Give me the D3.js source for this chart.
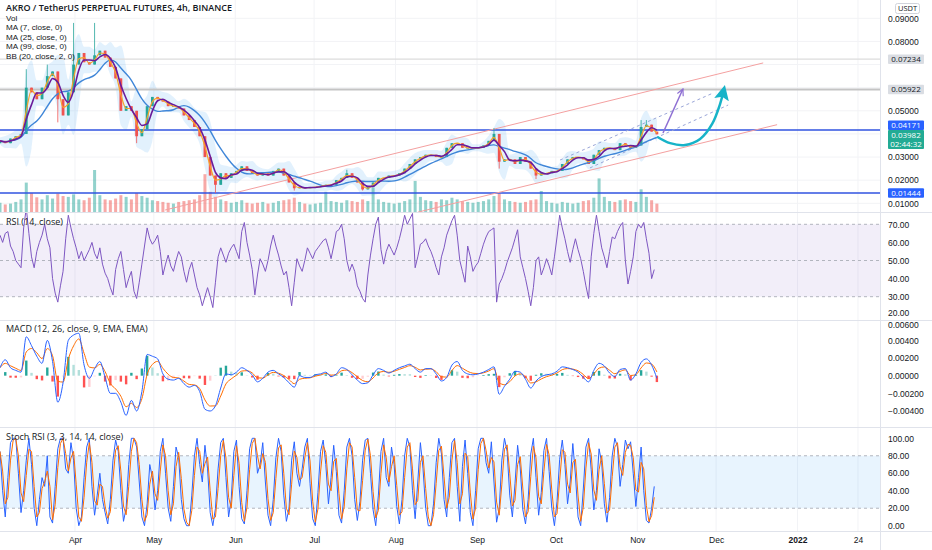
<!DOCTYPE html>
<html>
<head>
<meta charset="utf-8">
<script src="https://cdn.jsdelivr.net/npm/d3@7"></script>
<style>
  body { margin: 0; background: #fff; overflow: hidden; }
  svg { display: block; font-family: "Open Sans", "DejaVu Sans", sans-serif; }
</style>
</head>
<body>
<svg id="chart" width="932" height="550"></svg>
<script>
// ---- data ----
const startDate = new Date(2021, 2, 3, 11);
const priceStepDays = 2;
const firstOpen = 0.036;
const closes = [
  0.037, 0.036, 0.038, 0.039, 0.040, 0.060, 0.058, 0.055, 0.060, 0.065,
  0.067, 0.055, 0.048, 0.058, 0.070, 0.075, 0.071, 0.070, 0.074, 0.076,
  0.073, 0.069, 0.064, 0.050, 0.052, 0.050, 0.039, 0.042, 0.052, 0.056,
  0.055, 0.054, 0.052, 0.052, 0.051, 0.048, 0.046, 0.043, 0.039, 0.030,
  0.022, 0.018, 0.023, 0.021, 0.023, 0.024, 0.026, 0.024, 0.023, 0.022,
  0.023, 0.022, 0.024, 0.025, 0.022, 0.019, 0.0165, 0.017, 0.0165, 0.017,
  0.017, 0.0175, 0.018, 0.018, 0.020, 0.021, 0.023, 0.021, 0.019, 0.016,
  0.017, 0.019, 0.021, 0.021, 0.022, 0.022, 0.023, 0.025, 0.027, 0.029,
  0.030, 0.031, 0.031, 0.030, 0.030, 0.034, 0.036, 0.036, 0.034, 0.034,
  0.034, 0.034, 0.035, 0.037, 0.040, 0.028, 0.029, 0.029, 0.027, 0.030,
  0.028, 0.025, 0.022, 0.023, 0.023, 0.024, 0.024, 0.027, 0.029, 0.030,
  0.030, 0.029, 0.027, 0.031, 0.033, 0.034, 0.034, 0.033, 0.036, 0.035,
  0.034, 0.035, 0.043, 0.044, 0.041, 0.03982
];
const wickHighs = [[5, 0.068], [9, 0.070], [14, 0.088], [18, 0.088], [66, 0.0245], [94, 0.0425], [122, 0.046], [123, 0.046]];
const wickLows = [[11, 0.045], [26, 0.036], [41, 0.0145], [56, 0.0155], [69, 0.0155], [95, 0.025], [102, 0.0205]];
const volumes = [
  22, 18, 20, 24, 30, 70, 45, 35, 30, 40,
  32, 44, 38, 36, 42, 30, 28, 34, 100, 40,
  30, 28, 32, 40, 36, 30, 45, 38, 34, 28,
  26, 24, 22, 20, 24, 26, 28, 30, 40, 90,
  48, 36, 30, 26, 22, 24, 28, 22, 20, 22,
  24, 20, 22, 26, 28, 30, 34, 24, 20, 18,
  20, 22, 48, 26, 24, 22, 28, 26, 24, 30,
  26, 58, 30, 24, 22, 20, 22, 26, 30, 74,
  36, 28, 26, 24, 30, 28, 34, 30, 26, 24,
  22, 24, 26, 30, 38, 44, 30, 26, 24, 22,
  24, 28, 30, 50, 26, 22, 20, 24, 22, 20,
  22, 26, 28, 34, 80, 36, 26, 24, 28, 30,
  26, 24, 54, 36, 28, 20
];

const indStepDays = 1;
const rsiValues = [
  64, 60, 65, 66, 58, 55, 50, 48, 46, 68,
  79, 65, 52, 46, 55, 60, 64, 70, 62, 57,
  40, 32, 27, 36, 44, 62, 75, 68, 62, 57,
  51, 55, 50, 53, 56, 60, 54, 51, 57, 48,
  43, 40, 35, 31, 45, 51, 55, 45, 35, 40,
  44, 33, 29, 38, 48, 58, 68, 62, 59, 61,
  64, 55, 42, 48, 53, 47, 44, 50, 55, 52,
  44, 38, 45, 49, 42, 35, 31, 25, 30, 35,
  30, 24, 38, 52, 57, 53, 49, 54, 57, 59,
  55, 51, 66, 71, 60, 53, 45, 31, 42, 51,
  48, 44, 50, 58, 64, 58, 53, 47, 42, 44,
  35, 25, 38, 51, 47, 44, 50, 57, 54, 51,
  55, 57, 59, 61, 62, 57, 51, 58, 66, 67,
  70, 62, 50, 44, 48, 44, 36, 33, 29, 27,
  42, 53, 62, 70, 74, 56, 48, 55, 59, 56,
  53, 57, 62, 68, 75, 70, 73, 76, 46, 52,
  59, 60, 62, 58, 55, 51, 46, 42, 52, 57,
  64, 68, 72, 75, 64, 50, 44, 38, 58, 52,
  44, 47, 49, 54, 59, 63, 66, 67, 68, 27,
  37, 40, 44, 49, 53, 57, 62, 67, 52, 46,
  40, 33, 25, 35, 50, 52, 42, 46, 51, 47,
  42, 52, 63, 75, 68, 62, 55, 49, 56, 62,
  56, 51, 44, 36, 29, 52, 65, 75, 66, 57,
  52, 46, 55, 63, 62, 66, 69, 71, 50, 37,
  44, 52, 66, 70, 68, 71, 62, 54, 40, 45
];
const macdValues = [
  0.0009, 0.0018, 0.0009, 0.0006, 0.0004, 0.0044, 0.0034, 0.0022, 0.0014, 0.0040,
  0.0016, -0.0030, -0.0008, 0.0040, 0.0046, 0.0048, 0.0012, -0.0003, 0.0008, 0.0016,
  -0.0002, -0.0020, -0.0020, -0.0030, -0.0045, -0.0028, -0.0040, -0.0018, 0.0024, 0.0022,
  0.0019, 0.0002, -0.0004, -0.0005, -0.0003, -0.0009, -0.0013, -0.0011, -0.0018, -0.0038,
  -0.0040, -0.0034, -0.0014, 0.0002, 0.0001, 0.0004, 0.0009, 0.0006, 0.0001, -0.0007,
  -0.0003, 0.0004, 0.0006, 0.0002, -0.0002, -0.0008, -0.0013, 0.0000, -0.0002, -0.0002,
  0.0001, 0.0002, 0.0004, -0.0001, 0.0002, 0.0009, 0.0007, 0.0001, -0.0005, -0.0009,
  -0.0008, 0.0001, 0.0008, 0.0006, 0.0003, 0.0006, 0.0009, 0.0011, 0.0013, 0.0008,
  0.0004, 0.0008, 0.0008, 0.0002, -0.0006, -0.0002, 0.0012, 0.0016, 0.0006, 0.0002,
  0.0001, 0.0002, 0.0004, 0.0007, 0.0010, -0.0021, -0.0012, -0.0004, 0.0005, 0.0004,
  -0.0004, -0.0014, -0.0006, -0.0001, 0.0001, 0.0002, 0.0005, 0.0010, 0.0009, 0.0007,
  0.0004, -0.0002, -0.0007, 0.0006, 0.0014, 0.0011, 0.0003, -0.0001, 0.0007, 0.0008,
  -0.0005, 0.0002, 0.0015, 0.0019, 0.0012, -0.0003
];
const stochK = [
  85, 40, 10, 55, 95, 100, 100, 60, 15, 40,
  75, 100, 70, 20, 0, 30, 55, 45, 80, 10,
  3, 45, 88, 100, 100, 65, 60, 95, 75, 20,
  0, 10, 55, 90, 100, 45, 12, 35, 60, 30,
  15, 2, 30, 75, 98, 85, 40, 5, 20, 70,
  100, 100, 90, 50, 10, 0, 25, 70, 55, 18,
  40, 85, 100, 60, 20, 5, 45, 90, 78, 30,
  8, 0, 0, 35, 80, 100, 70, 50, 92, 65,
  15, 0, 20, 65, 95, 100, 55, 10, 30, 85,
  98, 45, 8, 2, 40, 88, 100, 100, 60, 70,
  95, 50, 12, 0, 30, 78, 100, 85, 35, 5,
  20, 75, 96, 60, 45, 65, 90, 100, 48, 8,
  0, 38, 85, 98, 70, 25, 55, 92, 62, 12,
  3, 40, 90, 100, 80, 30, 6, 28, 75, 98,
  100, 60, 18, 0, 35, 85, 100, 55, 45, 90,
  70, 22, 2, 30, 80, 100, 90, 40, 8, 50,
  95, 65, 20, 0, 0, 25, 72, 100, 82, 30,
  10, 55, 95, 100, 45, 5, 68, 98, 60, 15,
  0, 40, 88, 100, 100, 72, 60, 96, 50, 4,
  20, 75, 100, 85, 35, 10, 48, 92, 66, 18,
  2, 30, 82, 100, 55, 12, 38, 86, 100, 62,
  20, 0, 28, 76, 98, 70, 25, 50, 94, 58,
  10, 0, 42, 90, 100, 64, 18, 40, 88, 72,
  25, 4, 32, 80, 100, 90, 45, 70, 98, 88,
  96, 60, 22, 55, 90, 40, 6, 3, 20, 45
];

const levelPrices = [0.07234, 0.05922, 0.04171, 0.01444];
const levelKinds = ["grey", "grey", "blue", "blue"];
const lastPrice = 0.03982;
const countdown = "02:44:32";

const channelLines = [
  [["2021-05-05T07:00", 0.0071], ["2021-12-18T22:00", 0.0707]],
  [["2021-08-09T14:00", 0.0062], ["2021-12-24T05:00", 0.0440]]
];
const dashedLines = [
  [["2021-10-02T14:00", 0.0287], ["2021-11-29T22:00", 0.0577]],
  [["2021-10-14T00:00", 0.0253], ["2021-12-05T14:00", 0.0525]]
];
const purpleArrow = [["2021-11-10T19:00", 0.0404], ["2021-11-18T09:00", 0.0594]];
const tealCurve = [
  ["2021-11-08T13:00", 0.0388], ["2021-11-13T12:00", 0.0360], ["2021-11-19T05:00", 0.0352],
  ["2021-11-24T22:00", 0.0378], ["2021-11-29T12:00", 0.0443], ["2021-12-02T12:00", 0.0529],
  ["2021-12-03T17:00", 0.0580]
];

const monthTicks = ["2021-04-01", "2021-05-01", "2021-06-01", "2021-07-01", "2021-08-01", "2021-09-01",
  "2021-10-01", "2021-11-01", "2021-12-01", "2022-01-01", "2022-01-24"];
const monthLabels = ["Apr", "May", "Jun", "Jul", "Aug", "Sep", "Oct", "Nov", "Dec", "2022", "24"];

const legendLines = ["Vol", "MA (7, close, 0)", "MA (25, close, 0)", "MA (99, close, 0)", "BB (20, close, 2, 0)"];

// ---- layout ----
const plotW = 880;
const panels = {
  main: [0, 212], rsi: [213, 320], macd: [321, 427], stoch: [428, 531]
};
const textColor = "#131722";
const gridColor = "#f2f3f6";
const dayMs = 864e5;
const parse = s => new Date(s);

const svg = d3.select("#chart");
const defs = svg.append("defs");
Object.entries(panels).forEach(([k, [t, b]]) => {
  defs.append("clipPath").attr("id", "clip-" + k)
    .append("rect").attr("x", 0).attr("y", t).attr("width", plotW).attr("height", b - t);
});
defs.append("marker").attr("id", "openHead").attr("viewBox", "0 0 10 10")
  .attr("refX", 9).attr("refY", 5).attr("markerWidth", 8).attr("markerHeight", 8)
  .attr("orient", "auto").attr("markerUnits", "userSpaceOnUse")
  .append("path").attr("d", "M1,1 L9,5 L1,9").attr("fill", "none")
  .attr("stroke", "#8e6fd3").attr("stroke-width", 1.5);
defs.append("marker").attr("id", "fillHead").attr("viewBox", "0 0 10 10")
  .attr("refX", 5).attr("refY", 5).attr("markerWidth", 15).attr("markerHeight", 15)
  .attr("orient", "auto").attr("markerUnits", "userSpaceOnUse")
  .append("path").attr("d", "M0,0 L10,5 L0,10 L2,5 Z").attr("fill", "#17b3c8");

const x = d3.scaleTime()
  .domain([new Date(2021, 2, 3, 11), new Date(2022, 1, 1, 9)])
  .range([0, plotW]);
const yPrice = d3.scaleLinear().domain([0.01, 0.09]).range([203.3, 18.3]);
const yVol = d3.scaleLinear().domain([0, 100]).range([212, 170]);
const yRsi = d3.scaleLinear().domain([30, 70]).range([296.7, 224.3]);
const yMacd = d3.scaleLinear().domain([-0.004, 0.006]).range([411, 322.7]);
const yStoch = d3.scaleLinear().domain([0, 100]).range([525.7, 438.3]);

const priceDates = closes.map((_, i) => new Date(startDate.getTime() + i * priceStepDays * dayMs));
const indDates = rsiValues.map((_, i) => new Date(startDate.getTime() + i * indStepDays * dayMs));

// ---- derived series ----
function sma(arr, n) {
  return arr.map((_, i) => d3.mean(arr.slice(Math.max(0, i - n + 1), i + 1)));
}
const ma7 = sma(closes, 2), ma25 = sma(closes, 3), ma99 = sma(closes, 8);
const bb = closes.map((_, i) => {
  const w = closes.slice(Math.max(0, i - 2), i + 1);
  const m = d3.mean(w), s = w.length > 1 ? d3.deviation(w) : 0;
  return { m, up: m + 1.6 * s + 0.0015, lo: m - 1.6 * s - 0.0015 };
});
const hiMap = new Map(wickHighs), loMap = new Map(wickLows);
const candles = closes.map((c, i) => {
  const o = i === 0 ? firstOpen : closes[i - 1];
  return {
    d: priceDates[i], o, c,
    h: Math.max(o, c, hiMap.get(i) || 0),
    l: Math.min(o, c, loMap.get(i) || 1),
    v: volumes[i]
  };
});
let sig = macdValues[0];
const macdRows = macdValues.map((m, i) => {
  sig = i === 0 ? m : sig + 0.55 * (m - sig);
  return { d: priceDates[i], m, s: sig, h: m - sig };
});
const stochD = sma(stochK, 2);

// ---- grid ----
const grid = svg.append("g");
monthTicks.forEach(t => {
  grid.append("line").attr("x1", x(parse(t))).attr("x2", x(parse(t)))
    .attr("y1", 0).attr("y2", 531).attr("stroke", gridColor);
});
d3.range(0.01, 0.0901, 0.01).forEach(v => {
  grid.append("line").attr("x1", 0).attr("x2", plotW)
    .attr("y1", yPrice(v)).attr("y2", yPrice(v)).attr("stroke", gridColor);
});

// ---- main panel ----
const main = svg.append("g").attr("clip-path", "url(#clip-main)");
main.append("path").datum(bb)
  .attr("fill", "rgba(33,150,243,0.13)")
  .attr("d", d3.area().curve(d3.curveMonotoneX)
    .x((d, i) => x(priceDates[i])).y0(d => yPrice(d.lo)).y1(d => yPrice(d.up)));

main.selectAll(".vol").data(candles).join("rect")
  .attr("x", d => x(d.d) - 1.5).attr("width", 3)
  .attr("y", d => yVol(d.v)).attr("height", d => yVol(0) - yVol(d.v))
  .attr("fill", d => d.c >= d.o ? "rgba(38,166,154,0.5)" : "rgba(239,83,80,0.5)");

levelPrices.forEach((p, i) => {
  const blue = levelKinds[i] === "blue";
  main.append("line").attr("x1", 0).attr("x2", plotW)
    .attr("y1", yPrice(p)).attr("y2", yPrice(p))
    .attr("stroke", blue ? "#3153e0" : (p > 0.07 ? "#dcdcdc" : "#c4c4c4"))
    .attr("stroke-width", blue ? 1.5 : (p > 0.07 ? 1.2 : 2));
});

const ptLine = d3.line().x(d => x(parse(d[0]))).y(d => yPrice(d[1]));
channelLines.forEach(l => {
  main.append("path").attr("d", ptLine(l)).attr("fill", "none")
    .attr("stroke", "#f4a0a0").attr("stroke-width", 1);
});
dashedLines.forEach(l => {
  main.append("path").attr("d", ptLine(l)).attr("fill", "none")
    .attr("stroke", "#9aa6d8").attr("stroke-width", 1).attr("stroke-dasharray", "3,3");
});

const cg = main.selectAll(".candle").data(candles).join("g");
cg.append("line")
  .attr("x1", d => x(d.d)).attr("x2", d => x(d.d))
  .attr("y1", d => yPrice(d.h)).attr("y2", d => yPrice(d.l))
  .attr("stroke", d => d.c >= d.o ? "#26a69a" : "#ef5350").attr("stroke-width", 0.8);
cg.append("rect")
  .attr("x", d => x(d.d) - 1.4).attr("width", 2.8)
  .attr("y", d => yPrice(Math.max(d.o, d.c)))
  .attr("height", d => Math.max(0.8, Math.abs(yPrice(d.o) - yPrice(d.c))))
  .attr("fill", d => d.c >= d.o ? "#26a69a" : "#ef5350");

const maLine = d3.line().curve(d3.curveMonotoneX).x((d, i) => x(priceDates[i])).y(d => yPrice(d));
main.append("path").datum(ma99).attr("d", d3.line().curve(d3.curveBasis)
  .x((d, i) => x(priceDates[i])).y(d => yPrice(d)))
  .attr("fill", "none").attr("stroke", "#3f86d8").attr("stroke-width", 1.4);
main.append("path").datum(ma7).attr("d", maLine)
  .attr("fill", "none").attr("stroke", "#f7a32b").attr("stroke-width", 1.2);
main.append("path").datum(ma25).attr("d", maLine)
  .attr("fill", "none").attr("stroke", "#6a1b9a").attr("stroke-width", 1.6);

svg.append("path").attr("d", ptLine(purpleArrow)).attr("fill", "none")
  .attr("stroke", "#8e6fd3").attr("stroke-width", 1.5).attr("marker-end", "url(#openHead)");
svg.append("path").attr("d", d3.line().curve(d3.curveCatmullRom)
    .x(d => x(parse(d[0]))).y(d => yPrice(d[1]))(tealCurve))
  .attr("fill", "none").attr("stroke", "#17b3c8").attr("stroke-width", 2.5)
  .attr("marker-end", "url(#fillHead)");

// ---- RSI panel ----
const rsiG = svg.append("g").attr("clip-path", "url(#clip-rsi)");
rsiG.append("rect").attr("x", 0).attr("width", plotW)
  .attr("y", yRsi(70)).attr("height", yRsi(30) - yRsi(70)).attr("fill", "rgba(126,87,194,0.1)");
[70, 50, 30].forEach(v => rsiG.append("line").attr("x1", 0).attr("x2", plotW)
  .attr("y1", yRsi(v)).attr("y2", yRsi(v)).attr("stroke", "#b2b5be").attr("stroke-dasharray", "3,3"));
rsiG.append("path").datum(rsiValues)
  .attr("d", d3.line().x((d, i) => x(indDates[i])).y(d => yRsi(d)))
  .attr("fill", "none").attr("stroke", "#7e57c2").attr("stroke-width", 1);

// ---- MACD panel ----
const macdG = svg.append("g").attr("clip-path", "url(#clip-macd)");
macdG.selectAll("rect").data(macdRows).join("rect")
  .attr("x", d => x(d.d) - 1.2).attr("width", 2.4)
  .attr("y", d => Math.min(yMacd(0), yMacd(d.h)))
  .attr("height", d => Math.abs(yMacd(d.h) - yMacd(0)))
  .attr("fill", (d, i) => {
    const prev = i ? macdRows[i - 1].h : 0;
    if (d.h >= 0) return d.h >= prev ? "#26a69a" : "#b2dfdb";
    return d.h <= prev ? "#ff5252" : "#ffcdd2";
  });
const macdLine = key => d3.line().curve(d3.curveMonotoneX).x(d => x(d.d)).y(d => yMacd(d[key]));
macdG.append("path").datum(macdRows).attr("d", macdLine("s"))
  .attr("fill", "none").attr("stroke", "#ff6d00").attr("stroke-width", 1);
macdG.append("path").datum(macdRows).attr("d", macdLine("m"))
  .attr("fill", "none").attr("stroke", "#2962ff").attr("stroke-width", 1);

// ---- Stoch RSI panel ----
const stG = svg.append("g").attr("clip-path", "url(#clip-stoch)");
stG.append("rect").attr("x", 0).attr("width", plotW)
  .attr("y", yStoch(80)).attr("height", yStoch(20) - yStoch(80)).attr("fill", "rgba(33,150,243,0.1)");
[80, 20].forEach(v => stG.append("line").attr("x1", 0).attr("x2", plotW)
  .attr("y1", yStoch(v)).attr("y2", yStoch(v)).attr("stroke", "#b2b5be").attr("stroke-dasharray", "3,3"));
const stLine = d3.line().x((d, i) => x(indDates[i])).y(d => yStoch(d));
stG.append("path").datum(stochK).attr("d", stLine)
  .attr("fill", "none").attr("stroke", "#2962ff").attr("stroke-width", 1);
stG.append("path").datum(stochD).attr("d", stLine)
  .attr("fill", "none").attr("stroke", "#ff6d00").attr("stroke-width", 1);

// ---- separators ----
[212.5, 320.5, 427.5, 531.5].forEach(y => svg.append("line")
  .attr("x1", 0).attr("x2", 932).attr("y1", y).attr("y2", y).attr("stroke", "#e0e3eb"));
svg.append("line").attr("x1", plotW + 0.5).attr("x2", plotW + 0.5)
  .attr("y1", 0).attr("y2", 550).attr("stroke", "#e0e3eb");

// ---- right axes ----
function rightAxis(scale, ticks, fmt) {
  const g = svg.append("g").attr("transform", `translate(${plotW},0)`)
    .call(d3.axisRight(scale).tickValues(ticks).tickFormat(fmt).tickSize(0).tickPadding(8));
  g.select(".domain").remove();
  g.selectAll("text").attr("fill", textColor).attr("font-size", 8.5);
  return g;
}
const f5 = d3.format(".5f");
// price ticks that sit under a tag are hidden, as the terminal does
const lvlY = levelPrices.map(yPrice).concat([yPrice(lastPrice) + 5]);
const priceTicks = d3.range(0.01, 0.0901, 0.01).filter(v => lvlY.every(t => Math.abs(yPrice(v) - t) > 9));
rightAxis(yPrice, priceTicks, f5);
const rsiAxis = rightAxis(yRsi, [20, 30, 40, 50, 60, 70], d3.format(".2f"));
const macdAxis = rightAxis(yMacd, [-0.004, -0.002, 0, 0.002, 0.004, 0.006], f5);
rightAxis(yStoch, [0, 20, 40, 60, 80, 100], d3.format(".2f"));
// the two labels at the pane border are nudged apart
rsiAxis.selectAll("text").filter(d => d === 20).attr("dy", "0.1em");
macdAxis.selectAll("text").filter(d => d === 0.006).attr("dy", "0.6em");

function priceBox(yc, lines, bg, fg) {
  const lh = 9.5, h = lh * lines.length;
  svg.append("rect").attr("x", 888).attr("y", yc - lh / 2).attr("width", 36).attr("height", h)
    .attr("fill", bg).attr("rx", 1);
  lines.forEach((t, i) => svg.append("text").attr("x", 906).attr("y", yc + lh * i)
    .attr("dy", "0.35em").attr("text-anchor", "middle").attr("font-size", 8)
    .attr("fill", fg).text(t));
}
levelPrices.forEach((p, i) => {
  const blue = levelKinds[i] === "blue";
  // the 0.04171 tag is pushed up to make room for the live price tag
  const yc = p === 0.04171 ? yPrice(p) - 4.75 : yPrice(p);
  priceBox(yc, [f5(p)], blue ? "#2962ff" : "#dadde3", blue ? "#fff" : textColor);
});
priceBox(yPrice(0.04171) + 4.75, [f5(lastPrice), countdown], "#22ab94", "#fff");

svg.append("rect").attr("x", 895.5).attr("y", 3.5).attr("width", 24).attr("height", 10)
  .attr("fill", "#fff").attr("stroke", "#d1d4dc").attr("rx", 2);
svg.append("text").attr("x", 907.5).attr("y", 8.5).attr("dy", "0.35em")
  .attr("text-anchor", "middle").attr("font-size", 7.5).attr("fill", textColor).text("USDT");

// ---- time axis ----
const tAxis = svg.append("g").attr("transform", "translate(0,531)")
  .call(d3.axisBottom(x).tickValues(monthTicks.map(parse))
    .tickFormat((d, i) => monthLabels[i]).tickSize(0).tickPadding(6));
tAxis.select(".domain").remove();
tAxis.selectAll("text").attr("fill", textColor).attr("font-size", 8.5)
  .attr("font-weight", (d, i) => monthLabels[i] === "2022" ? 700 : 400);

// ---- legends ----
const legendFont = '"Liberation Sans", Arial, sans-serif';
svg.append("text").attr("x", 6).attr("y", 11).attr("font-size", 9).attr("font-weight", 600)
  .attr("fill", textColor).text("AKRO / TetherUS PERPETUAL FUTURES, 4h, BINANCE");
legendLines.forEach((t, i) => svg.append("text").attr("x", 6).attr("y", 21 + i * 9.4)
  .attr("font-family", legendFont).attr("font-size", 8.1).attr("fill", textColor).text(t));
svg.append("text").attr("x", 6).attr("y", 225).attr("font-size", 9).attr("fill", textColor).text("RSI (14, close)");
svg.append("text").attr("x", 6).attr("y", 332).attr("font-size", 9).attr("fill", textColor).text("MACD (12, 26, close, 9, EMA, EMA)");
svg.append("text").attr("x", 6).attr("y", 440).attr("font-size", 9).attr("fill", textColor).text("Stoch RSI (3, 3, 14, 14, close)");
</script>
</body>
</html>
